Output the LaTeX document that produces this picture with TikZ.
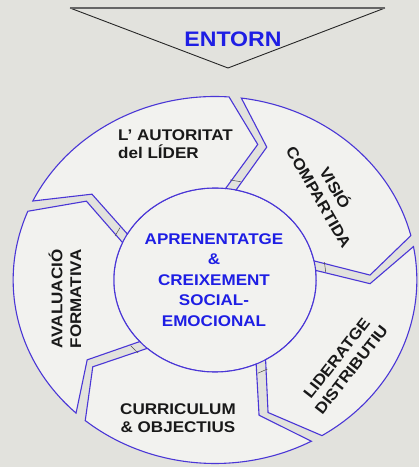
\documentclass[tikz,border=0pt]{standalone}
\usepackage{fontspec}
\setmainfont{Liberation Sans}[FakeStretch=1.1]

\definecolor{bgstone}{RGB}{226,226,221}
\definecolor{segfill}{RGB}{242,242,239}
\definecolor{ringblue}{RGB}{74,54,214}
\definecolor{textblue}{RGB}{30,30,228}

\tikzset{
    seg/.style={draw=ringblue, fill=segfill, line width=1.1pt, line join=miter},
    tick/.style={draw=black!70, line width=0.5pt},
    ringlabel/.style={font=\bfseries\fontsize{15.5}{18.6}\selectfont, text=black!90, align=center, inner sep=0pt},
    hublabel/.style={font=\bfseries\fontsize{15.5}{20.4}\selectfont, text=textblue, align=center, inner sep=0pt},
}

\begin{document}
\begin{tikzpicture}[x=1pt, y=1pt]
        \useasboundingbox (0,0) rectangle (419,467);
        \fill[bgstone] (0,0) rectangle (419,467);

        \draw[black!85, line width=0.9pt] (70,459) -- (228,399) -- (385,459);
        \draw[black!60, line width=2.2pt] (70,459) -- (385,459);
        \node[font=\bfseries\fontsize{21}{24}\selectfont, text=textblue, inner sep=0pt] (entorn) at (233,428) {ENTORN};

        \begin{scope}[shift={(215,187)}, xscale=1.1]
        \filldraw[seg] (0,0) circle (92);

        \filldraw[seg] (154.5:183.5) arc[start angle=154.5, end angle=86, radius=183.5] -- (74:141) -- (84:92) arc[start angle=84, end angle=150, radius=92] -- (142.5:141) -- cycle;
        \filldraw[seg] (82.5:183.5) arc[start angle=82.5, end angle=14, radius=183.5] -- (2:141) -- (12:92) arc[start angle=12, end angle=78, radius=92] -- (70.5:141) -- cycle;
        \filldraw[seg] (10.5:183.5) arc[start angle=10.5, end angle=-58, radius=183.5] -- (-70:141) -- (-60:92) arc[start angle=-60, end angle=6, radius=92] -- (-1.5:141) -- cycle;
        \filldraw[seg] (-61.5:183.5) arc[start angle=-61.5, end angle=-130, radius=183.5] -- (-142:141) -- (-132:92) arc[start angle=-132, end angle=-66, radius=92] -- (-73.5:141) -- cycle;
        \filldraw[seg] (-133.5:183.5) arc[start angle=-133.5, end angle=-202, radius=183.5] -- (-214:141) -- (-204:92) arc[start angle=-204, end angle=-138, radius=92] -- (-145.5:141) -- cycle;

        \draw[tick] (82.2:101) -- (76.6:101);
        \draw[tick] (10.2:101) -- (4.6:101);
        \draw[tick] (-61.8:101) -- (-67.4:101);
        \draw[tick] (-133.8:101) -- (-139.4:101);
        \draw[tick] (154.2:101) -- (148.6:101);
        \end{scope}

        \node[hublabel] (hub) at (214,187) {APRENENTATGE\\\&\\CREIXEMENT\\SOCIAL-\\EMOCIONAL};

        \node[ringlabel, align=left, anchor=west] (autoritat) at (118,323) {L' AUTORITAT\\del LÍDER};
        \node[ringlabel, rotate=-60] (visio) at (328,275) {VISIÓ\\COMPARTIDA};
        \node[ringlabel, rotate=52] (lideratge) at (344,103) {LIDERATGE\\DISTRIBUTIU};
        \node[ringlabel] (curriculum) at (178,49) {CURRICULUM\\\& OBJECTIUS};
        \node[ringlabel, rotate=90] (avaluacio) at (65,168) {AVALUACIÓ\\FORMATIVA};
\end{tikzpicture}
\end{document}
